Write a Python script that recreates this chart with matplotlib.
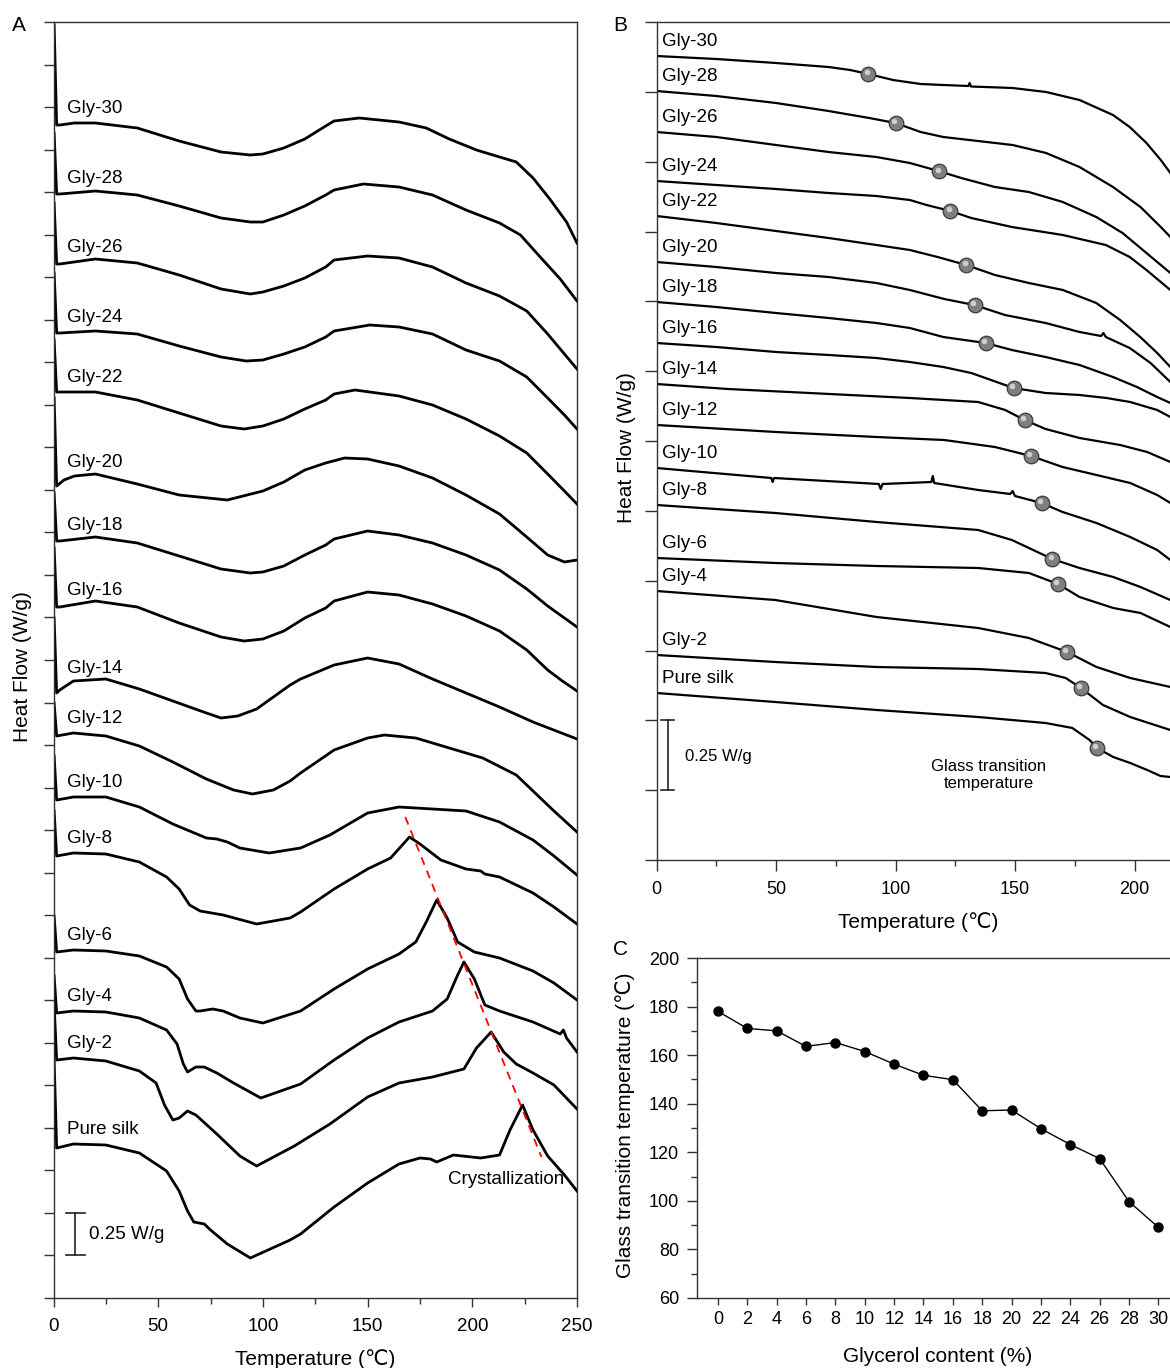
import numpy as np
import matplotlib
matplotlib.use("Agg")
import matplotlib.pyplot as plt
from matplotlib.ticker import MultipleLocator
from matplotlib.transforms import offset_copy

plt.rcParams['font.family'] = ['Liberation Sans', 'DejaVu Sans']

LABELS = ["Gly-30", "Gly-28", "Gly-26", "Gly-24", "Gly-22", "Gly-20", "Gly-18", "Gly-16",
          "Gly-14", "Gly-12", "Gly-10", "Gly-8", "Gly-6", "Gly-4", "Gly-2", "Pure silk"]

# ---- panel A: DSC curves, (temperature C, heat flow a.u.), 1276 a.u. = 7.5 W/g
A_SCALE = 7.5 / 1276
A_GLY30 = [(0.3, 1273), (1.5, 1173), (3, 1173), (10, 1175), (20, 1175), (40, 1170), (60, 1157), (80, 1146),
           (94, 1143), (100, 1144), (110, 1150), (120, 1159), (130, 1172), (134, 1177), (146, 1180), (165, 1176),
           (178, 1170), (189, 1159), (202, 1148), (213, 1141), (221, 1136), (229, 1120), (237, 1099), (245, 1076),
           (250, 1055)]
A_GLY28 = [(0.3, 1165), (1.5, 1104), (3, 1104), (20, 1107), (40, 1103), (60, 1092), (80, 1080), (94, 1076),
           (100, 1076), (110, 1083), (120, 1092), (130, 1103), (134, 1108), (148, 1114), (165, 1111), (181, 1103),
           (197, 1088), (213, 1075), (223, 1063), (232, 1042), (242, 1019), (250, 997)]
A_GLY26 = [(0.3, 1095), (1.5, 1034), (3, 1034), (20, 1039), (40, 1035), (60, 1023), (80, 1009), (94, 1004),
           (100, 1006), (110, 1012), (120, 1020), (130, 1031), (134, 1038), (150, 1042), (165, 1040), (181, 1031),
           (197, 1015), (213, 1002), (226, 987), (236, 964), (244, 944), (250, 929)]
A_GLY24 = [(0.3, 1025), (1.5, 965), (3, 965), (20, 967), (40, 964), (60, 952), (80, 941), (92, 937), (100, 938),
           (110, 944), (120, 951), (130, 961), (134, 967), (151, 973), (165, 971), (181, 964), (197, 948),
           (213, 937), (226, 921), (236, 900), (244, 883), (250, 869)]
A_GLY22 = [(0.3, 958), (1.5, 906), (3, 906), (20, 906), (40, 898), (60, 885), (80, 872), (91, 869), (100, 872),
           (110, 879), (120, 889), (130, 898), (134, 904), (144, 908), (165, 902), (181, 893), (197, 879),
           (213, 862), (226, 845), (236, 824), (244, 807), (250, 794)]
A_GLY20 = [(0.3, 900), (1.5, 812), (5, 818), (10, 822), (20, 824), (40, 814), (60, 803), (83, 798), (100, 807),
           (110, 816), (120, 828), (130, 835), (139, 840), (150, 839), (165, 832), (181, 820), (197, 803),
           (213, 784), (226, 761), (236, 743), (244, 736), (250, 738)]
A_GLY18 = [(0.3, 805), (1.5, 757), (3, 757), (20, 761), (40, 755), (60, 742), (80, 729), (94, 725), (100, 726),
           (110, 732), (120, 743), (130, 753), (134, 759), (150, 767), (165, 763), (181, 755), (197, 743),
           (213, 728), (226, 709), (236, 692), (244, 680), (250, 671)]
A_GLY16 = [(0.3, 750), (1.5, 691), (3, 691), (20, 697), (40, 691), (60, 675), (80, 661), (91, 657), (100, 659),
           (110, 667), (120, 680), (130, 690), (134, 697), (150, 706), (165, 703), (181, 694), (197, 682),
           (213, 667), (226, 648), (236, 628), (243, 617), (250, 607)]
A_GLY14 = [(0.3, 680), (1.5, 605), (3, 608), (9.5, 617), (25, 619), (41, 609), (57, 597), (73, 585), (80, 580),
           (88, 582), (97, 589), (113, 613), (118, 619), (134, 633), (150, 640), (165, 634), (181, 619),
           (197, 605), (213, 591), (229, 576), (250, 559)]
A_GLY12 = [(0.3, 595), (1.5, 562), (9.5, 565), (25, 562), (41, 552), (57, 536), (73, 519), (86, 508), (95, 504),
           (105, 508), (113, 517), (118, 525), (134, 548), (150, 560), (158, 563), (173, 560), (189, 550),
           (205, 540), (221, 523), (229, 507), (239, 487), (250, 466)]
A_GLY10 = [(0.3, 542), (1.5, 498), (9.5, 501), (25, 501), (41, 491), (57, 474), (73, 460), (78, 459), (83, 456),
           (89, 450), (103, 445), (118, 450), (132, 463), (150, 485), (165, 491), (181, 489), (197, 487),
           (213, 476), (229, 458), (239, 442), (250, 423)]
A_GLY8 = [(0.3, 487), (1.5, 442), (9.5, 445), (25, 444), (41, 436), (54, 421), (60, 409), (65, 393), (70, 387),
          (81, 383), (97, 374), (113, 380), (118, 386), (134, 409), (150, 429), (161, 440), (170, 461), (175, 454),
          (185, 438), (197, 429), (204, 427), (206, 424), (213, 421), (229, 405), (239, 391), (250, 374)]
A_GLY6 = [(0.3, 382), (1.5, 346), (9.5, 348), (25, 347), (41, 342), (54, 331), (60, 319), (64, 299), (68, 287),
          (70, 287), (76, 289), (81, 287), (89, 280), (100, 275), (118, 287), (134, 309), (150, 329), (165, 344),
          (173, 356), (178, 376), (183, 398), (188, 380), (193, 356), (201, 346), (213, 340), (229, 327),
          (239, 315), (250, 298)]
A_GLY4 = [(0.3, 322), (1.5, 285), (9.5, 287), (25, 286), (41, 280), (54, 268), (59, 254), (62, 234), (64, 226),
          (68, 231), (72, 231), (78, 225), (86, 215), (99, 200), (118, 214), (134, 238), (150, 260), (165, 276),
          (181, 287), (188, 299), (193, 323), (196, 336), (201, 319), (206, 293), (213, 287), (229, 276),
          (242, 264), (243.5, 268), (245, 260), (250, 246)]
A_GLY2 = [(0.3, 293), (1.5, 238), (9.5, 240), (25, 237), (41, 227), (49, 215), (53, 193), (57, 178), (60, 180),
          (64, 187), (68, 183), (78, 164), (89, 142), (97, 132), (115, 152), (132, 174), (150, 201), (165, 215),
          (181, 221), (196, 229), (202, 250), (209, 266), (215, 246), (221, 234), (229, 225), (239, 213),
          (250, 189)]
A_SILK = [(0.3, 238), (1.5, 150), (9.5, 154), (25, 153), (41, 145), (54, 127), (60, 107), (64, 87), (67, 76),
          (72, 74), (75, 68), (83, 54), (94, 40), (113, 58), (118, 64), (134, 91), (150, 115), (165, 134),
          (175, 140), (180, 139), (183, 136), (191, 143), (204, 140), (213, 143), (218, 168), (224, 193),
          (229, 168), (236, 142), (244, 123), (250, 107)]
A_CURVES = [A_GLY30, A_GLY28, A_GLY26, A_GLY24, A_GLY22, A_GLY20, A_GLY18, A_GLY16,
            A_GLY14, A_GLY12, A_GLY10, A_GLY8, A_GLY6, A_GLY4, A_GLY2, A_SILK]
CRYST_T = [168, 233]
CRYST_HF = [481, 141]

# ---- panel B: glass transition region, (temperature C, heat flow a.u.), 838 a.u. = 3.0 W/g
B_SCALE = 3.0 / 838
B_GLY30 = [(0, 804), (25, 801), (50, 797), (72, 793), (81, 790), (88.6, 786), (99, 780), (110.5, 776), (120, 775),
           (130.5, 774), (131, 777), (131.6, 773.5), (149, 772), (163, 768), (177, 760), (191, 745), (198, 733),
           (205, 717), (211, 700), (215, 687)]
B_GLY28 = [(0, 769), (25, 764), (50, 757), (72, 749), (89, 742), (100, 737), (110.5, 728), (120, 723),
           (134.5, 719), (149, 715), (163, 707), (177, 693), (191, 673), (202.5, 653), (211, 633), (215, 623)]
B_GLY26 = [(0, 728), (25, 723), (50, 715), (72, 708), (92, 703), (106, 697), (118, 689), (127.5, 682),
           (141.6, 673), (155.8, 668), (170, 658), (184, 643), (195, 627), (205, 607), (215, 587)]
B_GLY24 = [(0, 679), (25, 675), (50, 671), (72, 667), (92, 664), (106, 660), (113, 655), (123, 649),
           (131.7, 642), (148.7, 633), (170, 625), (188, 615), (198, 603), (205, 590), (215, 570)]
B_GLY22 = [(0, 644), (25, 637), (50, 629), (72, 622), (92, 615), (106, 610), (117.6, 603), (129.6, 595),
           (141.6, 585), (155.8, 577), (170, 570), (184, 557), (194, 540), (202.4, 523), (209.5, 507), (215, 493)]
B_GLY20 = [(0, 598), (25, 593), (50, 587), (72, 583), (92, 577), (106, 570), (120.4, 561), (133, 555),
           (145.8, 545), (162.8, 537), (177, 528), (186, 524), (187, 527), (188, 523), (198, 512), (206.7, 497),
           (215, 478)]
B_GLY18 = [(0, 558), (25, 553), (50, 547), (72, 542), (92, 537), (106, 532), (120, 523), (137.7, 517),
           (148.7, 510), (162.8, 503), (177, 495), (191, 483), (201, 473), (209.5, 463), (215, 457)]
B_GLY16 = [(0, 517), (25, 513), (50, 508), (72, 505), (92, 502), (106, 498), (120, 493), (131.7, 487),
           (149.4, 472), (162.8, 467), (177, 465), (188.3, 462), (198.2, 458), (209.5, 450), (215, 443)]
B_GLY14 = [(0, 476), (30, 471), (64, 467), (106, 462), (134.6, 458), (145.9, 450), (154, 440), (162.8, 431),
           (177, 422), (194, 415), (205.3, 408), (215, 398)]
B_GLY12 = [(0, 435), (50, 428), (92, 423), (120.4, 420), (141.6, 413), (156.7, 404), (169.9, 393), (184.1, 385),
           (198.2, 377), (209.5, 365), (215, 357)]
B_GLY10 = [(0, 392), (48, 382), (48.6, 378), (49.2, 382), (93, 376), (93.8, 371), (94.6, 376), (115, 378),
           (115.6, 384), (116.2, 377), (134.6, 370), (148, 366), (149, 369), (150, 364), (161.1, 357),
           (169.9, 348), (184.1, 337), (198.2, 323), (209.5, 310), (215, 300)]
B_GLY8 = [(0, 355), (49.7, 347), (92.1, 338), (134.6, 330), (148.7, 320), (165.6, 301), (177, 292), (191.1, 283),
          (202.5, 273), (215, 260)]
B_GLY6 = [(0, 302), (49.7, 297), (92.1, 294), (134.6, 292), (155.8, 287), (168, 276), (177, 263), (191.1, 252),
          (202.5, 247), (215, 233)]
B_GLY4 = [(0, 269), (49.7, 260), (92.1, 243), (134.6, 232), (155.8, 222), (171.8, 208), (184.1, 193),
          (198.2, 182), (215, 173)]
B_GLY2 = [(0, 205), (49.7, 198), (92.1, 193), (134.6, 191), (162.8, 187), (171.2, 182), (177.6, 172),
          (186.8, 155), (198.2, 143), (215, 130)]
B_SILK = [(0, 167), (49.7, 158), (92.1, 150), (134.6, 143), (162.8, 137), (174, 132), (181.2, 120), (184.3, 112),
          (191.1, 103), (198.2, 97), (205.3, 90), (210.9, 84), (215, 83)]
B_CURVES = [B_GLY30, B_GLY28, B_GLY26, B_GLY24, B_GLY22, B_GLY20, B_GLY18, B_GLY16,
            B_GLY14, B_GLY12, B_GLY10, B_GLY8, B_GLY6, B_GLY4, B_GLY2, B_SILK]
B_TG_MARK = [88.6, 100, 118.3, 122.9, 129.6, 133.1, 137.7, 149.4, 154, 156.7, 161.1, 165.6, 168, 171.8, 177.6, 184.3]

# ---- panel C: Tg vs glycerol content
GLY_CONTENT = [0, 2, 4, 6, 8, 10, 12, 14, 16, 18, 20, 22, 24, 26, 28, 30]
TG_VALUES = [178, 171, 170, 163.6, 165.2, 161.5, 156.3, 151.7, 149.9, 137.1, 137.4, 129.7, 123.2, 117.4, 99.7, 89.1]

SPINE = '#333333'
W, H = 1170, 1368

fig = plt.figure(figsize=(W / 100, H / 100), dpi=100)


def style(ax, ylen=7):
    for s in ax.spines.values():
        s.set_color(SPINE)
        s.set_linewidth(1.0)
    ax.tick_params(which='both', direction='out', color=SPINE, width=1.0)
    ax.tick_params(which='major', axis='y', length=ylen)


# ================= A
ax_a = fig.add_axes([53.5 / W, 70 / H, 523.5 / W, 1276 / H])
style(ax_a)
for name, curve in zip(LABELS, A_CURVES):
    t, hf = zip(*curve)
    y = np.array(hf) * A_SCALE
    ax_a.plot(t, y, color='black', lw=2.0, solid_joinstyle='round')
    ax_a.annotate(name, xy=(6.5, np.interp(8, t, y)), xytext=(0, 4.5), textcoords='offset points',
                  ha='left', va='bottom', fontsize=13.5)
ax_a.plot(CRYST_T, np.array(CRYST_HF) * A_SCALE, color='red', lw=1.3, ls=(0, (4.5, 3.5)))
ax_a.text(216, 118 * A_SCALE, "Crystallization", ha='center', va='center', fontsize=13.5)
# scale bar 0.25 W/g
ax_a.plot([10.5, 10.5], [0.25, 0.5], color='#222222', lw=1.2)
ax_a.plot([5.9, 15.1], [0.25, 0.25], color='#222222', lw=1.2)
ax_a.plot([5.9, 15.1], [0.5, 0.5], color='#222222', lw=1.2)
ax_a.text(16.9, 0.375, "0.25 W/g", ha='left', va='center', fontsize=13.5)
ax_a.set_xlim(0, 250)
ax_a.set_ylim(0, 7.5)
ax_a.set_xticks(range(0, 251, 50))
ax_a.xaxis.set_minor_locator(MultipleLocator(25))
ax_a.yaxis.set_major_locator(MultipleLocator(0.25))
ax_a.tick_params(axis='y', labelleft=False)
ax_a.tick_params(axis='x', which='major', length=6.5, labelsize=13.5, pad=8)
ax_a.tick_params(axis='x', which='minor', length=4)
ax_a.set_xlabel("Temperature (℃)", fontsize=15)
ax_a.xaxis.set_label_coords(0.5, -0.0478)
ax_a.xaxis.label.set_va('center')
ax_a.set_ylabel("Heat Flow (W/g)", fontsize=15)
ax_a.yaxis.set_label_coords(-0.060, 0.495)
ax_a.yaxis.label.set_va('center')

# ================= B  (axes runs past the right edge of the figure, as in the source)
ax_b = fig.add_axes([656.5 / W, (H - 860) / H, 597.5 / W, 838 / H])
style(ax_b, ylen=9)
hl = offset_copy(ax_b.transData, fig=fig, x=-1.2, y=1.2, units='points')
for name, curve, tg in zip(LABELS, B_CURVES, B_TG_MARK):
    t, hf = zip(*curve)
    y = np.array(hf) * B_SCALE
    ax_b.plot(t, y, color='black', lw=1.6, solid_joinstyle='round')
    ax_b.annotate(name, xy=(2.3, y[0]), xytext=(0, 4.5), textcoords='offset points',
                  ha='left', va='bottom', fontsize=13.5)
    yt = np.interp(tg, t, y)
    ax_b.plot([tg], [yt], marker='o', ms=10.5, mfc='#7f7f7f', mec='#3a3a3a', mew=0.9, zorder=5)
    ax_b.plot([tg], [yt], marker='o', ms=4, mfc='#d8d8d8', mec='none', alpha=0.9, zorder=6, transform=hl)
ax_b.plot([4.7, 4.7], [0.25, 0.5], color='#222222', lw=1.2)
ax_b.plot([2.0, 7.4], [0.25, 0.25], color='#222222', lw=1.2)
ax_b.plot([2.0, 7.4], [0.5, 0.5], color='#222222', lw=1.2)
ax_b.text(11.8, 0.37, "0.25 W/g", ha='left', va='center', fontsize=12)
ax_b.text(139.1, 0.304, "Glass transition\ntemperature", ha='center', va='center', fontsize=12,
          linespacing=1.15)
ax_b.set_xlim(0, 250)
ax_b.set_ylim(0, 3.0)
ax_b.set_xticks(range(0, 201, 50))
ax_b.set_xticks([25, 75, 125, 175], minor=True)
ax_b.yaxis.set_major_locator(MultipleLocator(0.25))
ax_b.tick_params(axis='y', labelleft=False)
ax_b.tick_params(axis='x', which='major', length=8, labelsize=13, pad=7)
ax_b.tick_params(axis='x', which='minor', length=4.5)
ax_b.set_xlabel("Temperature (℃)", fontsize=15)
ax_b.xaxis.set_label_coords(0.4377, -0.074)
ax_b.xaxis.label.set_va('center')
ax_b.set_ylabel("Heat Flow (W/g)", fontsize=15)
ax_b.yaxis.set_label_coords(-0.051, 0.4916)
ax_b.yaxis.label.set_va('center')

# ================= C
ax_c = fig.add_axes([697 / W, 70 / H, 490.7 / W, 340 / H])
style(ax_c)
ax_c.plot(GLY_CONTENT, TG_VALUES, color='black', lw=1.0, marker='o', ms=6.5)
ax_c.set_xlim(-1.43, 32)
ax_c.set_ylim(60, 200)
ax_c.set_xticks(GLY_CONTENT)
ax_c.yaxis.set_major_locator(MultipleLocator(20))
ax_c.yaxis.set_minor_locator(MultipleLocator(10))
ax_c.tick_params(axis='y', which='major', length=7, labelsize=13, pad=6)
ax_c.tick_params(axis='y', which='minor', length=4)
ax_c.tick_params(axis='x', length=5, labelsize=13, pad=4)
ax_c.set_xlabel("Glycerol content (%)", fontsize=15)
ax_c.xaxis.set_label_coords(0.491, -0.1735)
ax_c.xaxis.label.set_va('center')
ax_c.set_ylabel("Glass transition temperature (℃)", fontsize=15)
ax_c.yaxis.set_label_coords(-0.1467, 0.509)
ax_c.yaxis.label.set_va('center')

# panel letters
fig.text(19 / W, 1 - 30.7 / H, "A", fontsize=15, ha='center', va='baseline')
fig.text(620.5 / W, 1 - 31 / H, "B", fontsize=15, ha='center', va='baseline')
fig.text(620.5 / W, 1 - 955 / H, "C", fontsize=15, ha='center', va='baseline')

fig.savefig("out.png", dpi=100)
